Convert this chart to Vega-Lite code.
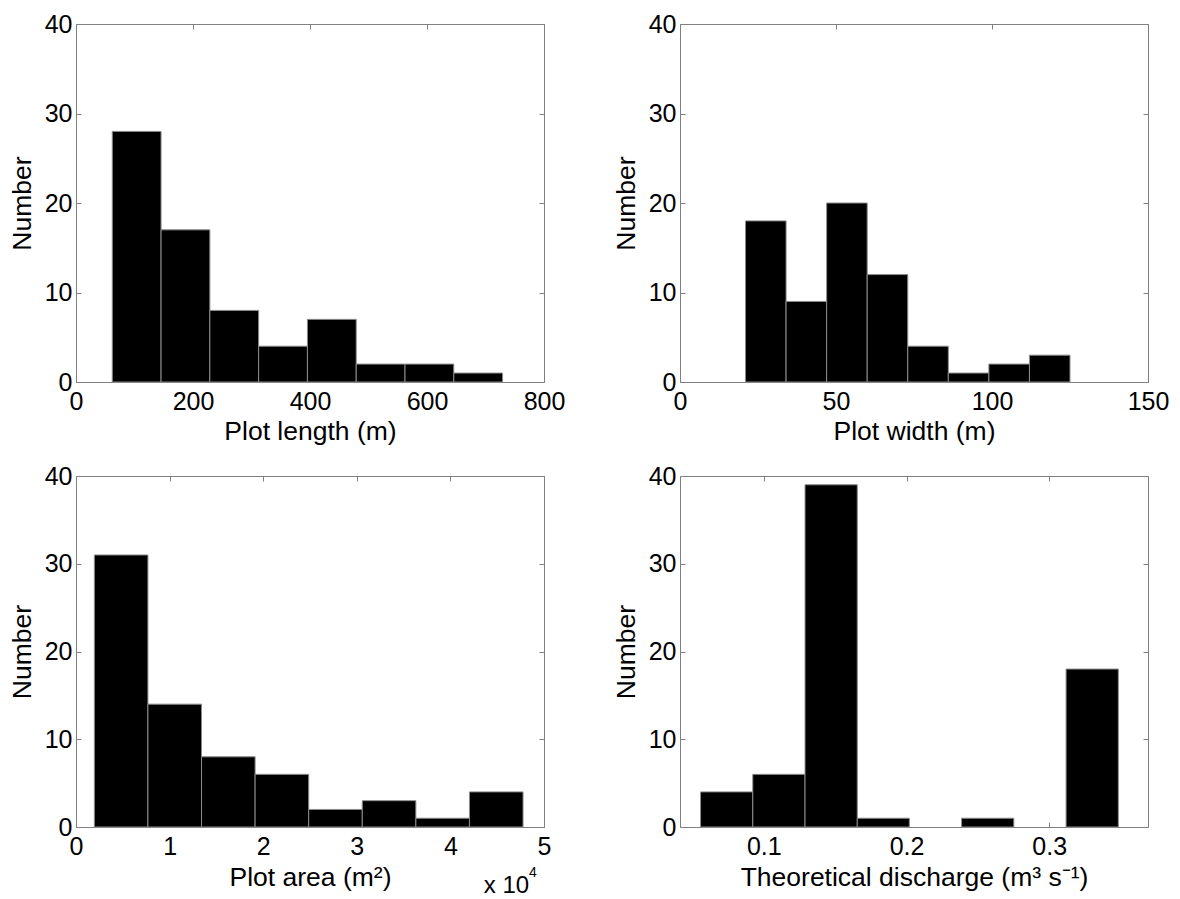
{
  "$schema": "https://vega.github.io/schema/vega-lite/v6.json",
  "background": "white",
  "padding": {"left": 9, "top": 11, "right": 0, "bottom": 0},
  "columns": 2,
  "spacing": {"row": 94, "column": 136},
  "bounds": "flush",
  "concat": [
    {
      "width": 468, "height": 358,
      "data": {"values": [
        {"bin_start": 62, "bin_end": 145.4, "count": 28},
        {"bin_start": 145.4, "bin_end": 228.8, "count": 17},
        {"bin_start": 228.8, "bin_end": 312.2, "count": 8},
        {"bin_start": 312.2, "bin_end": 395.6, "count": 4},
        {"bin_start": 395.6, "bin_end": 479, "count": 7},
        {"bin_start": 479, "bin_end": 562.4, "count": 2},
        {"bin_start": 562.4, "bin_end": 645.8, "count": 2},
        {"bin_start": 645.8, "bin_end": 729.2, "count": 1}
      ]},
      "layer": [
        {"mark": {"type": "bar", "fill": "black", "stroke": "#8c8c8c", "strokeWidth": 1},
         "encoding": {
           "x": {"field": "bin_start", "type": "quantitative", "scale": {"domain": [0, 800], "nice": false, "zero": false}, "axis": {"values": [0, 200, 400, 600, 800], "title": "Plot length (m)", "titlePadding": 4}},
           "x2": {"field": "bin_end"},
           "y": {"field": "count", "type": "quantitative", "scale": {"domain": [0, 40], "nice": false}, "axis": {"values": [0, 10, 20, 30, 40], "title": "Number"}},
           "y2": {"datum": 0}
         }},
        {"mark": {"type": "bar", "opacity": 0},
         "encoding": {
           "x": {"field": "bin_start", "type": "quantitative", "axis": {"orient": "top", "values": [0, 200, 400, 600, 800], "labels": false, "title": null}},
           "x2": {"field": "bin_end"},
           "y": {"field": "count", "type": "quantitative", "axis": {"orient": "right", "values": [0, 10, 20, 30, 40], "labels": false, "title": null}},
           "y2": {"datum": 0}
         }}
      ],
      "resolve": {"axis": {"x": "independent", "y": "independent"}}
    },
    {
      "width": 468, "height": 358,
      "data": {"values": [
        {"bin_start": 21, "bin_end": 34, "count": 18},
        {"bin_start": 34, "bin_end": 47, "count": 9},
        {"bin_start": 47, "bin_end": 60, "count": 20},
        {"bin_start": 60, "bin_end": 73, "count": 12},
        {"bin_start": 73, "bin_end": 86, "count": 4},
        {"bin_start": 86, "bin_end": 99, "count": 1},
        {"bin_start": 99, "bin_end": 112, "count": 2},
        {"bin_start": 112, "bin_end": 125, "count": 3}
      ]},
      "layer": [
        {"mark": {"type": "bar", "fill": "black", "stroke": "#8c8c8c", "strokeWidth": 1},
         "encoding": {
           "x": {"field": "bin_start", "type": "quantitative", "scale": {"domain": [0, 150], "nice": false, "zero": false}, "axis": {"values": [0, 50, 100, 150], "title": "Plot width (m)", "titlePadding": 4}},
           "x2": {"field": "bin_end"},
           "y": {"field": "count", "type": "quantitative", "scale": {"domain": [0, 40], "nice": false}, "axis": {"values": [0, 10, 20, 30, 40], "title": "Number"}},
           "y2": {"datum": 0}
         }},
        {"mark": {"type": "bar", "opacity": 0},
         "encoding": {
           "x": {"field": "bin_start", "type": "quantitative", "axis": {"orient": "top", "values": [0, 50, 100, 150], "labels": false, "title": null}},
           "x2": {"field": "bin_end"},
           "y": {"field": "count", "type": "quantitative", "axis": {"orient": "right", "values": [0, 10, 20, 30, 40], "labels": false, "title": null}},
           "y2": {"datum": 0}
         }}
      ],
      "resolve": {"axis": {"x": "independent", "y": "independent"}}
    },
    {
      "width": 468, "height": 351,
      "data": {"values": [
        {"bin_start": 1960, "bin_end": 7685, "count": 31},
        {"bin_start": 7685, "bin_end": 13410, "count": 14},
        {"bin_start": 13410, "bin_end": 19135, "count": 8},
        {"bin_start": 19135, "bin_end": 24860, "count": 6},
        {"bin_start": 24860, "bin_end": 30585, "count": 2},
        {"bin_start": 30585, "bin_end": 36310, "count": 3},
        {"bin_start": 36310, "bin_end": 42035, "count": 1},
        {"bin_start": 42035, "bin_end": 47760, "count": 4}
      ]},
      "layer": [
        {"mark": {"type": "bar", "fill": "black", "stroke": "#8c8c8c", "strokeWidth": 1},
         "encoding": {
           "x": {"field": "bin_start", "type": "quantitative", "scale": {"domain": [0, 50000], "nice": false, "zero": false}, "axis": {"values": [0, 10000, 20000, 30000, 40000, 50000], "labelExpr": "format(datum.value / 10000, 'd')", "title": "Plot area (m²)", "titlePadding": 5}},
           "x2": {"field": "bin_end"},
           "y": {"field": "count", "type": "quantitative", "scale": {"domain": [0, 40], "nice": false}, "axis": {"values": [0, 10, 20, 30, 40], "title": "Number"}},
           "y2": {"datum": 0}
         }},
        {"mark": {"type": "bar", "opacity": 0},
         "encoding": {
           "x": {"field": "bin_start", "type": "quantitative", "axis": {"orient": "top", "values": [0, 10000, 20000, 30000, 40000, 50000], "labels": false, "title": null}},
           "x2": {"field": "bin_end"},
           "y": {"field": "count", "type": "quantitative", "axis": {"orient": "right", "values": [0, 10, 20, 30, 40], "labels": false, "title": null}},
           "y2": {"datum": 0}
         }},
        {"data": {"values": [{"note": "x 10"}]},
         "mark": {"type": "text", "fontSize": 24, "align": "left", "baseline": "alphabetic", "color": "black", "font": "Liberation Sans"},
         "encoding": {
           "x": {"datum": 43560, "type": "quantitative", "axis": null},
           "y": {"datum": -7.49, "type": "quantitative", "axis": null},
           "text": {"field": "note"}
         }},
        {"data": {"values": [{"note": "4"}]},
         "mark": {"type": "text", "fontSize": 14, "align": "left", "baseline": "alphabetic", "color": "black", "font": "Liberation Sans"},
         "encoding": {
           "x": {"datum": 48400, "type": "quantitative", "axis": null},
           "y": {"datum": -5.7, "type": "quantitative", "axis": null},
           "text": {"field": "note"}
         }}
      ],
      "resolve": {"axis": {"x": "independent", "y": "independent"}}
    },
    {
      "width": 468, "height": 351,
      "data": {"values": [
        {"bin_start": 0.0557, "bin_end": 0.0923, "count": 4},
        {"bin_start": 0.0923, "bin_end": 0.1289, "count": 6},
        {"bin_start": 0.1289, "bin_end": 0.1655, "count": 39},
        {"bin_start": 0.1655, "bin_end": 0.2020, "count": 1},
        {"bin_start": 0.2386, "bin_end": 0.2752, "count": 1},
        {"bin_start": 0.3118, "bin_end": 0.3484, "count": 18}
      ]},
      "layer": [
        {"mark": {"type": "bar", "fill": "black", "stroke": "#8c8c8c", "strokeWidth": 1},
         "encoding": {
           "x": {"field": "bin_start", "type": "quantitative", "scale": {"domain": [0.0413, 0.3692], "nice": false, "zero": false}, "axis": {"values": [0.1, 0.2, 0.3], "format": ".1f", "title": "Theoretical discharge (m³ s⁻¹)", "titlePadding": 5}},
           "x2": {"field": "bin_end"},
           "y": {"field": "count", "type": "quantitative", "scale": {"domain": [0, 40], "nice": false}, "axis": {"values": [0, 10, 20, 30, 40], "title": "Number"}},
           "y2": {"datum": 0}
         }},
        {"mark": {"type": "bar", "opacity": 0},
         "encoding": {
           "x": {"field": "bin_start", "type": "quantitative", "axis": {"orient": "top", "values": [0.1, 0.2, 0.3], "labels": false, "title": null}},
           "x2": {"field": "bin_end"},
           "y": {"field": "count", "type": "quantitative", "axis": {"orient": "right", "values": [0, 10, 20, 30, 40], "labels": false, "title": null}},
           "y2": {"datum": 0}
         }}
      ],
      "resolve": {"axis": {"x": "independent", "y": "independent"}}
    }
  ],
  "config": {
    "font": "Liberation Sans",
    "view": {"stroke": "#808080", "strokeWidth": 1},
    "axis": {
      "domain": false, "grid": false, "ticks": true,
      "tickColor": "#808080", "tickSize": -5, "tickWidth": 1,
      "labelFont": "Liberation Sans", "labelFontSize": 25, "labelColor": "#000000",
      "titleFont": "Liberation Sans", "titleFontSize": 26.5, "titleFontWeight": "normal", "titleColor": "#000000",
      "labelFlush": false, "labelOverlap": false, "labelBound": false
    },
    "axisX": {"labelPadding": 12},
    "axisY": {"labelPadding": 9, "titlePadding": 7.5}
  }
}
